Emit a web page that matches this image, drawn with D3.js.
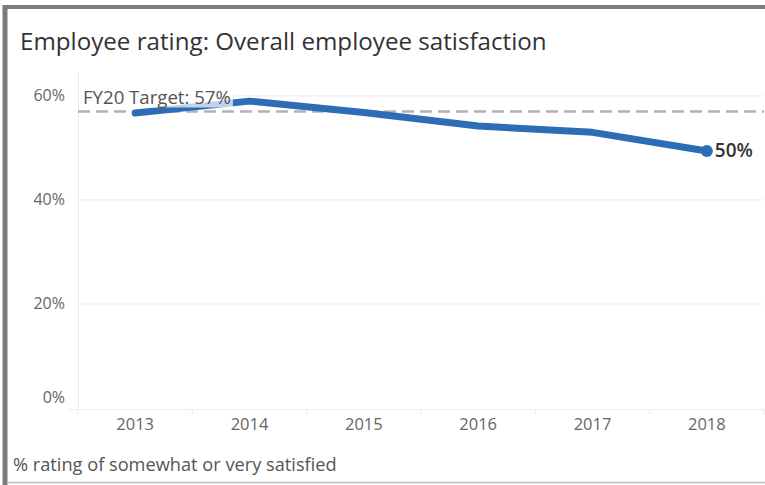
<!DOCTYPE html>
<html><head><meta charset="utf-8">
<script src="https://cdn.jsdelivr.net/npm/d3@7"></script>
<style>
html,body{margin:0;padding:0;background:#fff;}
svg{display:block;font-family:"Open Sans","Noto Sans",sans-serif;}
</style></head>
<body>
<svg id="c" width="765" height="485"></svg>
<script>
const years = ["2013","2014","2015","2016","2017","2018"];
const satisfaction = [56.7, 59.0, 56.8, 54.2, 53.0, 49.4];
const yTicks = [0, 20, 40, 60];
const targetValue = 57;
const targetLabel = "FY20 Target: 57%";
const lastLabel = "50%";
const titleText = "Employee rating: Overall employee satisfaction";
const footText = "% rating of somewhat or very satisfied";

const svg = d3.select("#c");

function fit(sel, w) {
  const n = sel.node();
  const fs = parseFloat(sel.attr("font-size"));
  const cur = n.getComputedTextLength();
  sel.attr("font-size", (fs * w / cur).toFixed(2));
}

// frame
svg.append("line").attr("x1",5).attr("x2",765).attr("y1",7).attr("y2",7).attr("stroke","#7b7b7b").attr("stroke-width",4);
svg.append("line").attr("x1",5).attr("x2",5).attr("y1",5).attr("y2",485).attr("stroke","#7b7b7b").attr("stroke-width",5);
svg.append("line").attr("x1",7).attr("x2",765).attr("y1",482.5).attr("y2",482.5).attr("stroke","#bdbdbd").attr("stroke-width",1.5);

const title = svg.append("text").attr("x",20).attr("y",50).attr("font-size",24).attr("fill","#333").text(titleText);
fit(title, 527);

const x = d3.scaleBand().domain(years).range([78,764]).padding(0);
const y = d3.scaleLinear().domain([0,64.6]).range([408,72]);

// gridlines
svg.append("g").selectAll("line").data(yTicks.filter(d=>d>0)).join("line")
  .attr("x1",78).attr("x2",764).attr("y1",d=>y(d)).attr("y2",d=>y(d))
  .attr("stroke","#ececec").attr("stroke-width",1);

// y axis
const ya = svg.append("g").attr("transform","translate(78,0)")
  .call(d3.axisLeft(y).tickValues(yTicks).tickFormat(d=>d+"%").tickSize(0).tickPadding(13));
ya.select(".domain").attr("stroke","#ececec");
ya.selectAll("text").attr("font-size",16).attr("fill","#666").attr("font-family","Open Sans, Noto Sans, sans-serif").attr("dy","0.3em");
ya.selectAll("text").each(function(d){ if(d===0) d3.select(this).attr("dy","-0.32em"); });

// x axis
const xa = svg.append("g").attr("transform","translate(0,409)")
  .call(d3.axisBottom(x).tickSize(0).tickPadding(12));
xa.select(".domain").remove();
svg.append("line").attr("x1",69).attr("x2",764).attr("y1",409.5).attr("y2",409.5).attr("stroke","#ececec");
svg.append("g").selectAll("line").data(years.concat(["end"])).join("line")
  .attr("x1",(d,i)=>78+i*x.step()).attr("x2",(d,i)=>78+i*x.step())
  .attr("y1",409).attr("y2",415).attr("stroke","#ececec");
xa.selectAll("text").attr("font-size",16.5).attr("fill","#666").attr("font-family","Open Sans, Noto Sans, sans-serif").attr("dy","0.55em");

// target line
svg.append("line").attr("x1",78).attr("x2",764).attr("y1",y(targetValue)).attr("y2",y(targetValue))
  .attr("stroke","#b3b3b3").attr("stroke-width",2.5).attr("stroke-dasharray","12 6");

// series line
const pts = years.map((d,i)=>[x(d)+x.bandwidth()/2, y(satisfaction[i])]);
svg.append("path").attr("d",d3.line()(pts)).attr("fill","none")
  .attr("stroke","#2d6db5").attr("stroke-width",7).attr("stroke-linejoin","round").attr("stroke-linecap","round");
const last = pts[pts.length-1];
svg.append("circle").attr("cx",last[0]).attr("cy",last[1]).attr("r",6).attr("fill","#2d6db5");
const ll = svg.append("text").attr("x",last[0]+8).attr("y",last[1]+6).attr("font-size",15).attr("font-weight",600).attr("fill","#333").text(lastLabel);
fit(ll, 38);

// target label with translucent backing
const tg = svg.append("g");
const bgRect = tg.append("rect");
const tl = tg.append("text").attr("x",83).attr("y",103.5).attr("font-size",16).attr("fill","#555").text(targetLabel);
fit(tl, 148);
const bb = tl.node().getBBox();
bgRect.attr("x",bb.x-2).attr("y",bb.y+1).attr("width",bb.width+4).attr("height",bb.height-2)
  .attr("fill","#fff").attr("opacity",0.7);

const ft = svg.append("text").attr("x",13).attr("y",471).attr("font-size",15).attr("fill","#555").text(footText);
fit(ft, 324);
</script>
</body></html>
